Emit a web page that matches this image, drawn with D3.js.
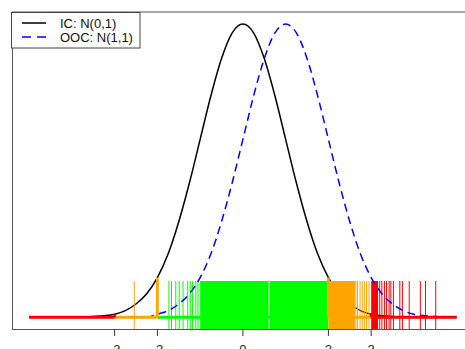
<!DOCTYPE html>
<html>
<head>
<meta charset="utf-8">
<script src="https://cdn.jsdelivr.net/npm/d3@7"></script>
<style>
  html, body { margin: 0; padding: 0; background: #fff; }
  svg { display: block; font-family: 'Liberation Sans', Arial, sans-serif; }
</style>
</head>
<body>
<div id="chart"></div>
<script>
// density grid (x from -5 to 5, step 0.25)
const gridX = [-5, -4.75, -4.5, -4.25, -4, -3.75, -3.5, -3.25, -3, -2.75, -2.5, -2.25, -2, -1.75, -1.5, -1.25, -1, -0.75, -0.5, -0.25,
  0, 0.25, 0.5, 0.75, 1, 1.25, 1.5, 1.75, 2, 2.25, 2.5, 2.75, 3, 3.25, 3.5, 3.75, 4, 4.25, 4.5, 4.75, 5]
const icDensity = [0, 0, 0, 0, 0, 0, 0.001, 0.002, 0.004, 0.009, 0.018, 0.032, 0.054, 0.086, 0.130, 0.183, 0.242, 0.301, 0.352, 0.387,
  0.399, 0.387, 0.352, 0.301, 0.242, 0.183, 0.130, 0.086, 0.054, 0.032, 0.018, 0.009, 0.004, 0.002, 0.001, 0, 0, 0, 0, 0, 0]
const oocDensity = [0, 0, 0, 0, 0, 0, 0, 0, 0, 0, 0, 0, 0.004, 0.009, 0.018, 0.032, 0.054, 0.086, 0.130, 0.183,
  0.242, 0.301, 0.352, 0.387, 0.399, 0.387, 0.352, 0.301, 0.242, 0.183, 0.130, 0.086, 0.054, 0.032, 0.018, 0.009, 0.004, 0.002, 0.001, 0, 0]

// control limits and their zone colours
const limits = [-3, -2, 2, 3]
const limitDensity = [0.004, 0.054, 0.054, 0.004]
const limitZones = ['red', 'orange', 'orange', 'red']
const zones = [[-5, -3, 'red'], [-3, -2, 'orange'], [-2, 2, 'green'], [2, 3, 'orange'], [3, 5, 'red']]
const zoneColors = { green: '#00ff00', orange: '#ffa500', red: '#ff0000' }

// observations shown as a rug
const sample = [-2.54, -1.73, -1.67, -1.57, -1.49, -1.40, -1.29, -1.23, -1.18, -1.10, -1.05,
  2.64, 2.68, 2.74, 2.79, 2.84, 2.89, 2.95,
  3.20, 3.25, 3.31, 3.36, 3.42, 3.46, 3.52, 3.67, 3.73, 3.89, 4.15, 4.27, 4.51]
// stretches so dense the rug lines merge into a block
const denseRanges = [[-1.0, 0.60], [0.62, 2.0], [2.0, 2.62], [3.0, 3.16]]

const tickValues = [-3, -2, 0, 2, 3]
const legendLabels = ['IC: N(0,1)', 'OOC: N(1,1)']

const width = 465
const height = 349

const svg = d3.select('#chart')
  .append('svg')
  .attr('width', width)
  .attr('height', height)

const x = d3.scaleLinear().domain([-5.4, 5.4]).range([12, 473.8])
const y = d3.scaleLinear().domain([-0.016, 0.416]).range([329, 11.5])

const zoneOf = function (v) {
  const a = Math.abs(v)
  if (a <= 2) return zoneColors.green
  if (a <= 3) return zoneColors.orange
  return zoneColors.red
}

const line = d3.line()
  .x(function (d) { return x(d[0]) })
  .y(function (d) { return y(d[1]) })
  .curve(d3.curveMonotoneX)

// IC curve (underneath the rug)
svg.append('path')
  .attr('d', line(d3.zip(gridX, icDensity)))
  .attr('fill', 'none')
  .attr('stroke', '#000')
  .attr('stroke-width', 1.5)

// rug
const rugTop = y(-0.016) - 48
const rug = svg.append('g')
rug.selectAll('rect.dense')
  .data(denseRanges)
  .enter()
  .append('rect')
  .attr('class', 'dense')
  .attr('x', function (d) { return x(d[0]) })
  .attr('width', function (d) { return x(d[1]) - x(d[0]) })
  .attr('y', rugTop)
  .attr('height', y(-0.016) - rugTop)
  .attr('fill', function (d) { return zoneOf((d[0] + d[1]) / 2) })

rug.selectAll('line')
  .data(sample)
  .enter()
  .append('line')
  .attr('x1', function (d) { return x(d) })
  .attr('x2', function (d) { return x(d) })
  .attr('y1', rugTop)
  .attr('y2', y(-0.016))
  .attr('stroke', zoneOf)
  .attr('stroke-width', 1)

// OOC curve
svg.append('path')
  .attr('d', line(d3.zip(gridX, oocDensity)))
  .attr('fill', 'none')
  .attr('stroke', '#0000ff')
  .attr('stroke-width', 1.5)
  .attr('stroke-dasharray', '8,5')

// zone bars along the x axis
svg.selectAll('line.zone')
  .data(zones)
  .enter()
  .append('line')
  .attr('class', 'zone')
  .attr('x1', function (d) { return x(d[0]) })
  .attr('x2', function (d) { return x(d[1]) })
  .attr('y1', y(0))
  .attr('y2', y(0))
  .attr('stroke', function (d) { return zoneColors[d[2]] })
  .attr('stroke-width', 2.8)

// limit markers up to the IC density
svg.selectAll('line.limit')
  .data(limits)
  .enter()
  .append('line')
  .attr('class', 'limit')
  .attr('x1', function (d) { return x(d) })
  .attr('x2', function (d) { return x(d) })
  .attr('y1', y(0))
  .attr('y2', function (d, i) { return y(limitDensity[i]) })
  .attr('stroke', function (d, i) { return zoneColors[limitZones[i]] })
  .attr('stroke-width', 2.8)

// frame
svg.append('rect')
  .attr('x', x(-5.4) + 0.5)
  .attr('y', y(0.416) + 0.5)
  .attr('width', x(5.4) - x(-5.4))
  .attr('height', y(-0.016) - y(0.416))
  .attr('fill', 'none')
  .attr('stroke', '#555')
  .attr('stroke-width', 1)

// x axis ticks
const axis = svg.append('g')
axis.selectAll('line')
  .data(tickValues)
  .enter()
  .append('line')
  .attr('x1', function (d) { return x(d) })
  .attr('x2', function (d) { return x(d) })
  .attr('y1', y(-0.016))
  .attr('y2', y(-0.016) + 7)
  .attr('stroke', '#333')
  .attr('stroke-width', 1)

axis.selectAll('text')
  .data(tickValues)
  .enter()
  .append('text')
  .attr('x', function (d) { return x(d) })
  .attr('y', 354)
  .attr('text-anchor', 'middle')
  .style('font-size', '13px')
  .style('fill', '#222')
  .text(function (d) { return d })

// legend
const legend = svg.append('g')
legend.append('rect')
  .attr('x', 11.5)
  .attr('y', 12.5)
  .attr('width', 128.5)
  .attr('height', 35.5)
  .attr('fill', '#fff')
  .attr('stroke', '#444')

legendLabels.forEach(function (label, i) {
  const ly = 23 + i * 14
  legend.append('line')
    .attr('x1', 22)
    .attr('x2', 46)
    .attr('y1', ly)
    .attr('y2', ly)
    .attr('stroke', i === 0 ? '#000' : '#0000ff')
    .attr('stroke-width', 1.5)
    .attr('stroke-dasharray', i === 0 ? null : '9,6')

  legend.append('text')
    .attr('x', 60)
    .attr('y', ly + 4.5)
    .style('font-size', '13px')
    .style('fill', '#111')
    .text(label)
})
</script>
</body>
</html>
